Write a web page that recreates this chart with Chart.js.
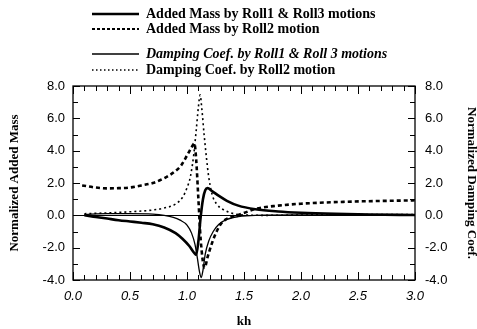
<!DOCTYPE html>
<html>
<head>
<meta charset="utf-8">
<script src="https://cdn.jsdelivr.net/npm/chart.js@4.4.1/dist/chart.umd.min.js"></script>
<style>
  html, body { margin: 0; padding: 0; background: #fff; }
  #wrap { width: 477px; height: 329px; position: relative; }
</style>
</head>
<body>
<div id="wrap"><canvas id="chart"></canvas></div>
<script>
// Added mass, Roll1 & Roll3 motions (thick solid)
const khMass13 = [0.1, 0.2, 0.3, 0.4, 0.5, 0.6, 0.7, 0.8, 0.9, 0.96, 1.02, 1.06, 1.08, 1.10, 1.12, 1.14, 1.16, 1.18, 1.22, 1.28, 1.35, 1.45, 1.6, 1.8, 2.0, 2.3, 2.6, 3.0];
const mass13   = [0.0, -0.1, -0.2, -0.3, -0.38, -0.46, -0.55, -0.75, -1.1, -1.45, -1.9, -2.3, -2.45, -1.6, -0.1, 1.0, 1.55, 1.68, 1.5, 1.2, 0.9, 0.6, 0.38, 0.24, 0.16, 0.09, 0.05, 0.02];

// Added mass, Roll2 motion (thick dashed)
const khMass2 = [0.08, 0.2, 0.3, 0.4, 0.5, 0.6, 0.7, 0.8, 0.9, 0.95, 1.0, 1.04, 1.065, 1.08, 1.10, 1.12, 1.155, 1.18, 1.22, 1.26, 1.30, 1.37, 1.44, 1.52, 1.6, 1.8, 2.0, 2.4, 3.0];
const mass2   = [1.85, 1.72, 1.67, 1.68, 1.72, 1.85, 2.0, 2.3, 2.75, 3.1, 3.7, 4.2, 4.45, 3.5, 1.0, -1.5, -3.25, -2.6, -1.7, -1.0, -0.5, -0.15, 0.0, 0.2, 0.4, 0.6, 0.72, 0.84, 0.93];

// Damping coef., Roll1 & Roll3 motions (thin solid)
const khDamp13 = [0.1, 0.3, 0.5, 0.7, 0.8, 0.88, 0.94, 1.0, 1.04, 1.07, 1.09, 1.11, 1.125, 1.14, 1.16, 1.19, 1.23, 1.28, 1.35, 1.45, 1.6, 2.0, 3.0];
const damp13   = [0.05, 0.1, 0.1, 0.07, 0.0, -0.12, -0.3, -0.6, -1.1, -1.8, -2.6, -3.5, -3.85, -3.4, -2.4, -1.6, -1.0, -0.55, -0.25, -0.08, 0.0, 0.02, 0.0];

// Damping coef., Roll2 motion (thin dotted)
const khDamp2 = [0.1, 0.3, 0.5, 0.7, 0.8, 0.9, 0.96, 1.0, 1.03, 1.06, 1.08, 1.10, 1.115, 1.13, 1.15, 1.17, 1.19, 1.22, 1.26, 1.32, 1.4, 1.5, 1.7, 2.0, 2.5, 3.0];
const damp2   = [0.1, 0.15, 0.22, 0.33, 0.45, 0.7, 1.1, 1.7, 2.4, 3.8, 5.2, 6.7, 7.45, 6.6, 5.0, 3.6, 2.4, 1.3, 0.7, 0.35, 0.12, 0.02, 0.0, 0.02, 0.05, 0.05];

const seriesNames = [
  'Added Mass by Roll1 & Roll3 motions',
  'Added Mass by Roll2 motion',
  'Damping Coef. by Roll1 & Roll 3 motions',
  'Damping Coef. by Roll2 motion'
];

const xTicks = [0, 0.5, 1.0, 1.5, 2.0, 2.5, 3.0];
const yTicks = [-4, -2, 0, 2, 4, 6, 8];

const pts = (xs, ys) => xs.map((x, i) => ({ x: x, y: ys[i] }));

// legend entries drawn at top, each with its own line style
const legendStyles = [
  { y: 14, width: 2.5, dash: [], font: 'bold 14px "Liberation Serif"' },
  { y: 29, width: 1.8, dash: [3, 2], font: 'bold 14px "Liberation Serif"' },
  { y: 54, width: 1.3, dash: [], font: 'italic bold 14px "Liberation Serif"' },
  { y: 70, width: 1.3, dash: [1.5, 2.5], font: 'bold 14px "Liberation Serif"' }
];

const framePlugin = {
  id: 'frame',
  afterDraw(chart) {
    const ctx = chart.ctx;
    const a = chart.chartArea;
    const xs = chart.scales.x;
    const ys = chart.scales.y;
    ctx.save();
    ctx.strokeStyle = '#000';
    ctx.lineWidth = 1.3;
    ctx.setLineDash([]);
    ctx.strokeRect(a.left, a.top, a.right - a.left, a.bottom - a.top);

    // inward ticks on x (bottom and top)
    ctx.lineWidth = 1;
    for (let i = 0; i <= 30; i++) {
      const v = i / 10;
      const px = Math.round(xs.getPixelForValue(v)) + 0.5;
      const len = (i % 5 === 0) ? 8 : 5;
      ctx.beginPath();
      ctx.moveTo(px, a.bottom); ctx.lineTo(px, a.bottom - len);
      ctx.moveTo(px, a.top); ctx.lineTo(px, a.top + len);
      ctx.stroke();
    }
    // inward ticks on y (left and right)
    for (let v = -4; v <= 8; v++) {
      const py = Math.round(ys.getPixelForValue(v)) + 0.5;
      const len = (v % 2 === 0) ? 7 : 5;
      ctx.beginPath();
      ctx.moveTo(a.left, py); ctx.lineTo(a.left + len, py);
      ctx.moveTo(a.right, py); ctx.lineTo(a.right - len, py);
      ctx.stroke();
    }

    // legend
    ctx.fillStyle = '#000';
    ctx.textBaseline = 'middle';
    ctx.textAlign = 'left';
    legendStyles.forEach((s, i) => {
      ctx.lineWidth = s.width;
      ctx.setLineDash(s.dash);
      ctx.beginPath();
      ctx.moveTo(92, s.y);
      ctx.lineTo(139, s.y);
      ctx.stroke();
      ctx.font = s.font;
      ctx.fillText(seriesNames[i], 146, s.y);
    });
    ctx.restore();
  }
};

const ctx = document.getElementById('chart');
new Chart(ctx, {
  type: 'line',
  data: {
    datasets: [
      {
        label: seriesNames[0],
        data: pts(khMass13, mass13),
        borderColor: '#000',
        borderWidth: 2.6,
        yAxisID: 'y'
      },
      {
        label: seriesNames[1],
        data: pts(khMass2, mass2),
        borderColor: '#000',
        borderWidth: 2.6,
        borderDash: [4, 3],
        yAxisID: 'y'
      },
      {
        label: seriesNames[2],
        data: pts(khDamp13, damp13),
        borderColor: '#000',
        borderWidth: 1.3,
        yAxisID: 'y2'
      },
      {
        label: seriesNames[3],
        data: pts(khDamp2, damp2),
        borderColor: '#000',
        borderWidth: 1.6,
        borderDash: [2, 3],
        yAxisID: 'y2'
      }
    ]
  },
  options: {
    responsive: true,
    maintainAspectRatio: false,
    animation: false,
    layout: { padding: { top: 86, left: 0, right: 0, bottom: 0 } },
    elements: {
      point: { radius: 0 },
      line: { cubicInterpolationMode: 'monotone', fill: false }
    },
    plugins: {
      legend: { display: false },
      tooltip: { enabled: false }
    },
    scales: {
      x: {
        type: 'linear',
        min: 0,
        max: 3,
        afterFit: (s) => { s.height = 49; },
        afterBuildTicks: (s) => { s.ticks = xTicks.map(v => ({ value: v })); },
        grid: { display: false, drawTicks: false },
        border: { display: false },
        ticks: {
          padding: 9,
          color: '#000',
          font: { family: '"Liberation Sans"', size: 13, style: 'italic' },
          callback: (v) => Number(v).toFixed(1)
        },
        title: {
          display: true,
          text: 'kh',
          color: '#000',
          font: { family: '"Liberation Serif"', size: 13, weight: 'bold' },
          padding: { top: 3, bottom: 0 }
        }
      },
      y: {
        position: 'left',
        min: -4,
        max: 8,
        afterFit: (s) => { s.width = 73; },
        afterBuildTicks: (s) => { s.ticks = yTicks.map(v => ({ value: v })); },
        grid: {
          drawTicks: false,
          color: (c) => (c.tick && c.tick.value === 0) ? '#000' : 'rgba(0,0,0,0)',
          lineWidth: 1
        },
        border: { display: false },
        ticks: {
          padding: 8,
          color: '#000',
          font: { family: '"Liberation Sans"', size: 13 },
          callback: (v) => Number(v).toFixed(1)
        },
        title: {
          display: true,
          text: 'Normalized Added Mass',
          color: '#000',
          font: { family: '"Liberation Serif"', size: 13, weight: 'bold' },
          padding: { top: 7, bottom: 0 }
        }
      },
      y2: {
        position: 'right',
        min: -4,
        max: 8,
        afterFit: (s) => { s.width = 62; },
        afterBuildTicks: (s) => { s.ticks = yTicks.map(v => ({ value: v })); },
        grid: { display: false, drawTicks: false },
        border: { display: false },
        ticks: {
          padding: 10,
          color: '#000',
          font: { family: '"Liberation Sans"', size: 13 },
          callback: (v) => Number(v).toFixed(1)
        },
        title: {
          display: true,
          text: 'Normalized Damping Coef.',
          color: '#000',
          font: { family: '"Liberation Serif"', size: 13, weight: 'bold' },
          padding: { top: -2, bottom: 0 }
        }
      }
    }
  },
  plugins: [framePlugin]
});
</script>
</body>
</html>
